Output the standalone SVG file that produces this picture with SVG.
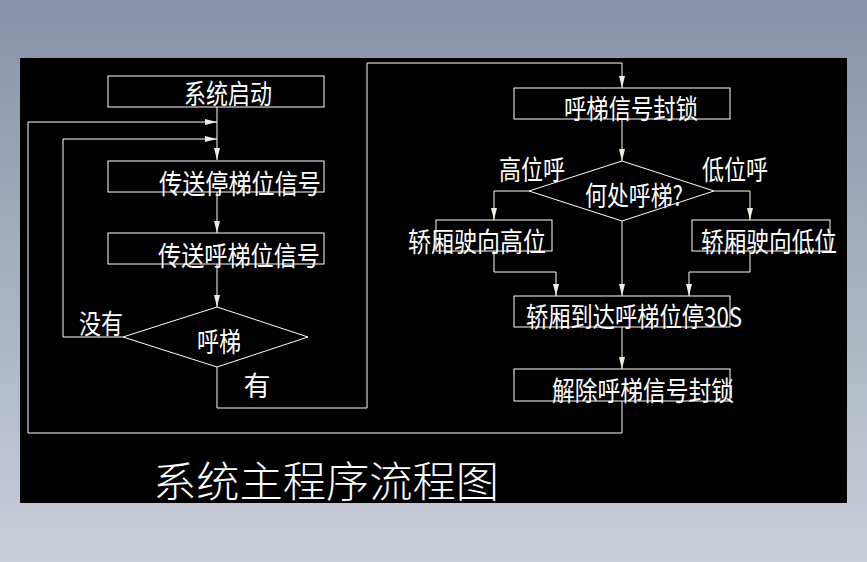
<svg xmlns="http://www.w3.org/2000/svg" width="867" height="562" viewBox="0 0 867 562">
<defs>
<linearGradient id="bg" x1="0" y1="0" x2="0" y2="1"><stop offset="0" stop-color="#8793a8"/><stop offset="1" stop-color="#c9ced8"/></linearGradient>
<marker id="a" viewBox="0 0 12 6" refX="12" refY="3" markerWidth="12" markerHeight="6" markerUnits="userSpaceOnUse" orient="auto"><path d="M0,0 L12,3 L0,6 Z" fill="#eeeee0"/></marker>
<style>
.n{fill:none;stroke:#fff;stroke-width:1}
.c{fill:none;stroke:#fff;stroke-width:1}
text{fill:#fff;font-family:"Noto Sans CJK SC",sans-serif;font-size:27px;text-anchor:middle}
</style>
</defs>
<rect width="867" height="562" fill="url(#bg)"/>
<rect x="20" y="58" width="827" height="445" fill="#000"/>
<g id="connectors">
<path class="c" d="M217,107 V160" marker-end="url(#a)"/>
<path class="c" d="M28,433 V122 H217" marker-end="url(#a)"/>
<path class="c" d="M123,337 H63 V139 H217" marker-end="url(#a)"/>
<path class="c" d="M217,192 V233" marker-end="url(#a)"/>
<path class="c" d="M217,264 V307" marker-end="url(#a)"/>
<path class="c" d="M217,367 V408 H367 V63 H622 V88" marker-end="url(#a)"/>
<path class="c" d="M622,119 V161" marker-end="url(#a)"/>
<path class="c" d="M529,191 H494 V220" marker-end="url(#a)"/>
<path class="c" d="M714,191 H750 V220" marker-end="url(#a)"/>
<path class="c" d="M622,221 V296" marker-end="url(#a)"/>
<path class="c" d="M494,251 V272 H556 V296" marker-end="url(#a)"/>
<path class="c" d="M750,251 V272 H689 V296" marker-end="url(#a)"/>
<path class="c" d="M622,327 V369" marker-end="url(#a)"/>
<path class="c" d="M622,401 V433 H28"/>
</g>
<g id="n1"><rect class="n" x="108" y="76" width="216" height="31"/><text x="228" y="104" textLength="88" lengthAdjust="spacingAndGlyphs">系统启动</text></g>
<g id="n2"><rect class="n" x="108" y="161" width="216" height="31"/><text x="240" y="194" textLength="162" lengthAdjust="spacingAndGlyphs">传送停梯位信号</text></g>
<g id="n3"><rect class="n" x="108" y="233" width="216" height="31"/><text x="239" y="266" textLength="162" lengthAdjust="spacingAndGlyphs">传送呼梯位信号</text></g>
<g id="n4"><path class="n" d="M217,307 L308,337 L217,367 L123,337 Z"/><text x="219" y="352" textLength="44" lengthAdjust="spacingAndGlyphs">呼梯</text></g>
<text x="101" y="334" textLength="44" lengthAdjust="spacingAndGlyphs">没有</text>
<text x="257" y="396">有</text>
<g id="n5"><rect class="n" x="514" y="88" width="216" height="31"/><text x="631" y="119" textLength="134" lengthAdjust="spacingAndGlyphs">呼梯信号封锁</text></g>
<g id="n6"><path class="n" d="M622,161 L714,191 L622,221 L529,191 Z"/><text x="634" y="206" textLength="98" lengthAdjust="spacingAndGlyphs">何处呼梯?</text></g>
<text x="532" y="180" textLength="66" lengthAdjust="spacingAndGlyphs">高位呼</text>
<text x="735" y="180" textLength="66" lengthAdjust="spacingAndGlyphs">低位呼</text>
<g id="n7"><rect class="n" x="436" y="220" width="116" height="31"/><text x="477" y="252" textLength="138" lengthAdjust="spacingAndGlyphs">轿厢驶向高位</text></g>
<g id="n8"><rect class="n" x="692" y="220" width="138" height="31"/><text x="769" y="252" textLength="136" lengthAdjust="spacingAndGlyphs">轿厢驶向低位</text></g>
<g id="n9"><rect class="n" x="514" y="296" width="216" height="31"/><text x="634" y="327" textLength="216" lengthAdjust="spacingAndGlyphs">轿厢到达呼梯位停30S</text></g>
<g id="n10"><rect class="n" x="514" y="369" width="216" height="32"/><text x="643" y="401" textLength="182" lengthAdjust="spacingAndGlyphs">解除呼梯信号封锁</text></g>
<text x="326" y="497" style="font-size:42px;font-weight:300" textLength="346" lengthAdjust="spacingAndGlyphs">系统主程序流程图</text>
</svg>
